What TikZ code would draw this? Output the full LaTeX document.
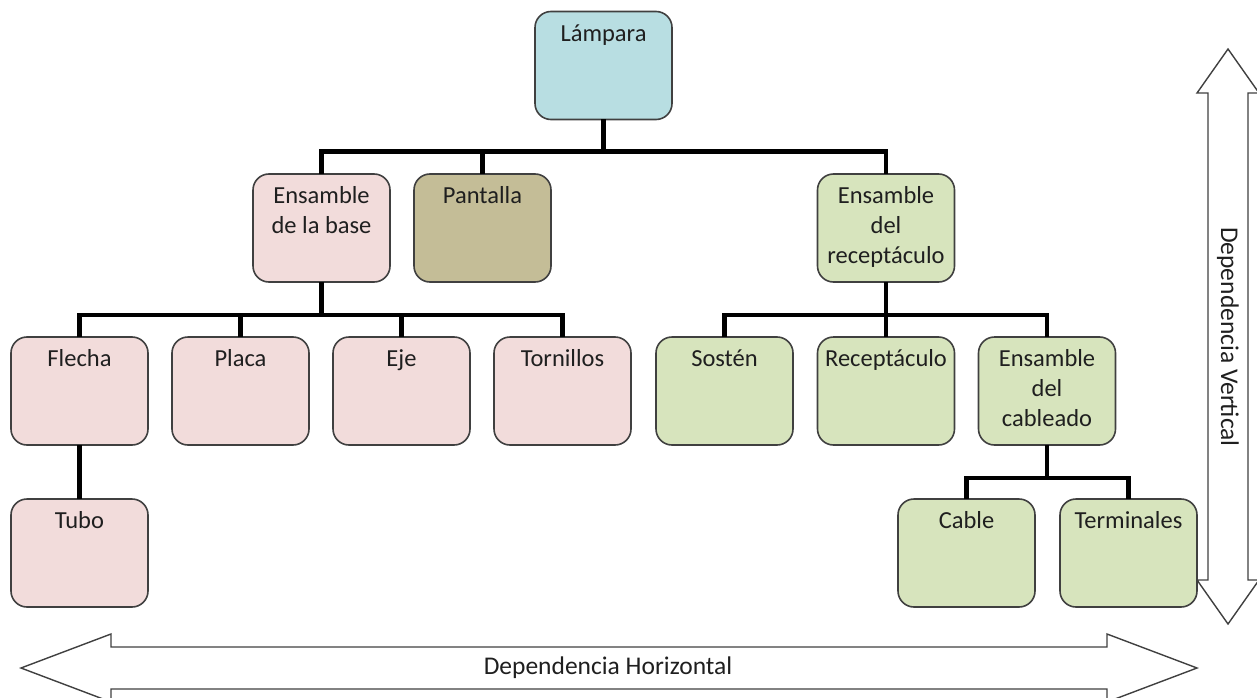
\documentclass[tikz,border=0pt]{standalone}
\usepackage{fontspec}
\setmainfont{Carlito}
\definecolor{lampblue}{HTML}{B8DEE2}
\definecolor{basepink}{HTML}{F2DCDB}
\definecolor{shadeolive}{HTML}{C4BD97}
\definecolor{recgreen}{HTML}{D7E4BD}
\definecolor{edgegrey}{HTML}{404040}
\newcommand\sline[1]{\strut#1}
\begin{document}
\begin{tikzpicture}[x=1pt,y=-1pt,
  part/.style={draw=edgegrey, line width=1.6pt, rounded corners=16pt,
    minimum width=137pt, minimum height=108pt, inner sep=0pt, outer sep=0pt},
  lbl/.style={anchor=north, align=center, inner sep=0pt, yshift=-8.5pt,
    font=\fontsize{24.5}{30}\selectfont, text=black!88},
  conn/.style={draw=black, line width=4.5pt},
  bigarrow/.style={draw=edgegrey, line width=1.4pt, fill=white, line join=miter},
  arrowtext/.style={font=\fontsize{25.5}{30}\selectfont, text=black!88, inner sep=0pt}]
\useasboundingbox (0,0) rectangle (1257,698);

% dependency arrows
\draw[bigarrow] (1228,49) -- (1259,93) -- (1248,93) -- (1248,580) -- (1259,580)
  -- (1228,624) -- (1197,580) -- (1208,580) -- (1208,93) -- (1197,93) -- cycle;
\node[arrowtext, rotate=-90] (vtext) at (1228,337) {Dependencia Vertical};
\draw[bigarrow] (21,668) -- (111,634) -- (111,647) -- (1107,647) -- (1107,634)
  -- (1197,668) -- (1107,702) -- (1107,689) -- (111,689) -- (111,702) -- cycle;
\node[arrowtext] (htext) at (608,668) {Dependencia Horizontal};

% parts
\node[part, fill=lampblue] (lamp) at (603.5,65.5) {};
\node[part, fill=basepink] (base) at (321.5,228) {};
\node[part, fill=shadeolive] (pant) at (482.5,228) {};
\node[part, fill=recgreen] (recep) at (886,228) {};
\node[part, fill=basepink] (flecha) at (79.5,391) {};
\node[part, fill=basepink] (placa) at (240.5,391) {};
\node[part, fill=basepink] (eje) at (401.5,391) {};
\node[part, fill=basepink] (torn) at (562.5,391) {};
\node[part, fill=recgreen] (sosten) at (724.5,391) {};
\node[part, fill=recgreen] (recepc) at (886,391) {};
\node[part, fill=recgreen] (cabl) at (1047,391) {};
\node[part, fill=basepink] (tubo) at (79.5,553) {};
\node[part, fill=recgreen] (cable) at (966.5,553) {};
\node[part, fill=recgreen] (term) at (1128.5,553) {};

% labels
\node[lbl] (lampL) at (lamp.north) {\sline{Lámpara}};
\node[lbl] (baseL) at (base.north) {\sline{Ensamble}\\\sline{de la base}};
\node[lbl] (pantL) at (pant.north) {\sline{Pantalla}};
\node[lbl] (recepL) at (recep.north) {\sline{Ensamble}\\\sline{del}\\\sline{receptáculo}};
\node[lbl] (flechaL) at (flecha.north) {\sline{Flecha}};
\node[lbl] (placaL) at (placa.north) {\sline{Placa}};
\node[lbl] (ejeL) at (eje.north) {\sline{Eje}};
\node[lbl] (tornL) at (torn.north) {\sline{Tornillos}};
\node[lbl] (sostenL) at (sosten.north) {\sline{Sostén}};
\node[lbl] (recepcL) at (recepc.north) {\sline{Receptáculo}};
\node[lbl] (cablL) at (cabl.north) {\sline{Ensamble}\\\sline{del}\\\sline{cableado}};
\node[lbl] (tuboL) at (tubo.north) {\sline{Tubo}};
\node[lbl] (cableL) at (cable.north) {\sline{Cable}};
\node[lbl] (termL) at (term.north) {\sline{Terminales}};

% tree connectors
\coordinate (j1) at ([yshift=-32pt]lamp.south);
\draw[conn] (lamp.south) -- (j1);
\draw[conn] (base.north) |- (j1) -| (recep.north);
\draw[conn] (pant.north) -- (pant.north |- j1);

\coordinate (j2) at ([yshift=-33pt]base.south);
\draw[conn] (base.south) -- (j2);
\draw[conn] (flecha.north) |- (j2) -| (torn.north);
\draw[conn] (placa.north) -- (placa.north |- j2);
\draw[conn] (eje.north) -- (eje.north |- j2);

\coordinate (j3) at ([yshift=-33pt]recep.south);
\draw[conn] (recep.south) -- (j3);
\draw[conn] (sosten.north) |- (j3) -| (cabl.north);
\draw[conn] (recepc.north) -- (recepc.north |- j3);

\draw[conn] (flecha.south) -- (tubo.north);

\coordinate (j4) at ([yshift=-33pt]cabl.south);
\draw[conn] (cabl.south) -- (j4);
\draw[conn] (cable.north) |- (j4) -| (term.north);
\end{tikzpicture}
\end{document}
